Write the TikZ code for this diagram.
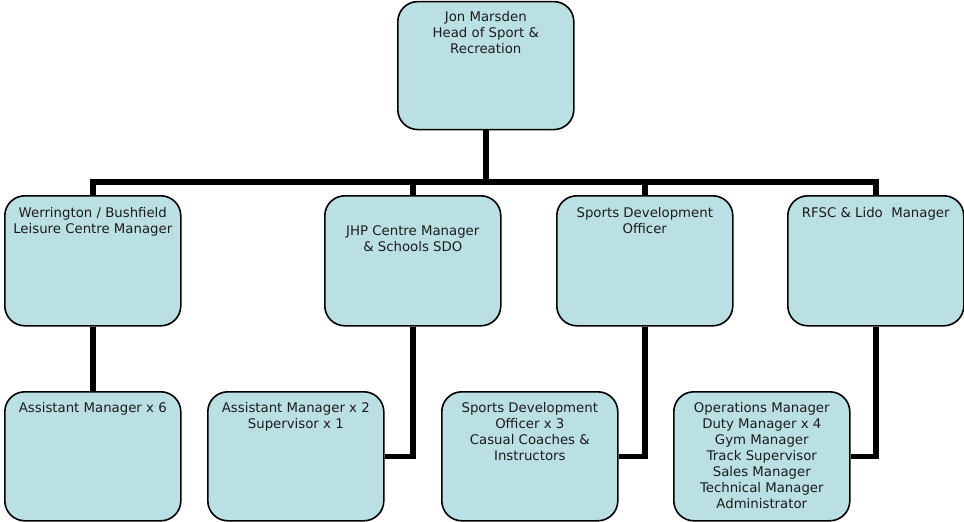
\documentclass[tikz,border=0pt]{standalone}
\usepackage{fontspec}
\setmainfont{DejaVu Sans}
\definecolor{boxfill}{RGB}{187,224,227}
\definecolor{ink}{RGB}{28,28,28}
% text block of a box: top aligned, first baseline #1 below the top edge
\newcommand{\orgtext}[3]{\parbox[c][#1][t]{176pt}{\centering\fontsize{13.3}{16}\selectfont\rule{0pt}{#2}#3\par}}
\tikzset{
  orgbox/.style={draw=black, line width=1.6pt, fill=boxfill, text=ink,
    rounded corners=20pt, inner sep=0pt, anchor=north west},
  conn/.style={draw=black, line width=5.5pt}
}
\begin{document}
\begin{tikzpicture}[x=1pt,y=-1pt]
\useasboundingbox (0,0) rectangle (964,522);

% head of department
\node[orgbox] (head) at (397,0.8) {\orgtext{128pt}{19.5pt}{Jon Marsden\\Head of Sport \&\\Recreation}};

% managers
\node[orgbox] (wer) at (4,195) {\orgtext{130pt}{22pt}{Werrington / Bushfield\\Leisure Centre Manager}};
\node[orgbox] (jhp) at (324,195) {\orgtext{130pt}{40pt}{JHP Centre Manager\\\& Schools SDO}};
\node[orgbox] (sdo) at (556,195) {\orgtext{130pt}{22pt}{Sports Development\\Officer}};
\node[orgbox] (rfsc) at (787,195) {\orgtext{130pt}{22pt}{RFSC \& Lido\ \ Manager}};

% teams
\node[orgbox] (werteam) at (4,391) {\orgtext{129pt}{21pt}{Assistant Manager x 6}};
\node[orgbox] (jhpteam) at (207,391) {\orgtext{129pt}{21pt}{Assistant Manager x 2\\Supervisor x 1}};
\node[orgbox] (sdoteam) at (441,391) {\orgtext{129pt}{21pt}{Sports Development\\Officer x 3\\Casual Coaches \&\\Instructors}};
\node[orgbox] (rfscteam) at (673,391) {\orgtext{129pt}{21pt}{Operations Manager\\Duty Manager x 4\\Gym Manager\\Track Supervisor\\Sales Manager\\Technical Manager\\Administrator}};

% reporting lines
\coordinate (bus) at (0,182);
\draw[conn] (wer.north) |- (head.south |- bus) -| (rfsc.north);
\draw[conn] (head.south) -- (head.south |- bus);
\draw[conn] (jhp.north |- bus) -- (jhp.north);
\draw[conn] (sdo.north |- bus) -- (sdo.north);

\draw[conn] (wer.south) -- (werteam.north);
\draw[conn] (jhp.south) |- (jhpteam.east);
\draw[conn] (sdo.south) |- (sdoteam.east);
\draw[conn] (rfsc.south) |- (rfscteam.east);
\end{tikzpicture}
\end{document}
